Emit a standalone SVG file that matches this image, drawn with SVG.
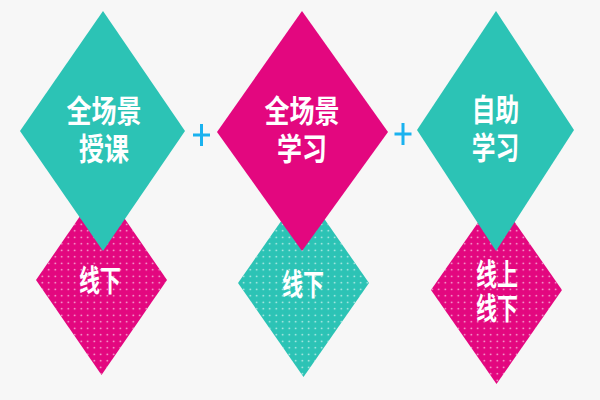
<svg xmlns="http://www.w3.org/2000/svg" width="600" height="400" viewBox="0 0 600 400">
  <defs>
    <pattern id="dots" width="6.5" height="6.5" patternUnits="userSpaceOnUse">
      <circle cx="3.25" cy="3.25" r="0.8" fill="#ffffff" fill-opacity="0.85"/>
    </pattern>
    <style>
      .teal { fill: #2cc3b5; }
      .mag { fill: #e3077f; }
      .dots { fill: url(#dots); }
      .big { font-family: "Noto Sans CJK SC", "Noto Sans", sans-serif; font-size: 25px; font-weight: bold; fill: #ffffff; text-anchor: middle; }
      .small { font-family: "Noto Sans CJK SC", "Noto Sans", sans-serif; font-size: 21px; font-weight: bold; fill: #ffffff; text-anchor: middle; }
      .plus { stroke: #1ab2ef; stroke-width: 3; fill: none; }
    </style>
  </defs>
  <rect x="0" y="0" width="600" height="400" fill="#f7f7f7"/>

  <g id="lower-1">
    <polygon class="mag" points="101.5,185 167,280 101.5,375 36,280"/>
    <polygon class="dots" points="101.5,185 167,280 101.5,375 36,280"/>
    <text class="small" transform="translate(100 291) scale(1 1.4)">线下</text>
  </g>
  <g id="lower-2">
    <polygon class="teal" points="303.5,189 369,283 303.5,377 238,283"/>
    <polygon class="dots" points="303.5,189 369,283 303.5,377 238,283"/>
    <text class="small" transform="translate(303 295) scale(1 1.4)">线下</text>
  </g>
  <g id="lower-3">
    <polygon class="mag" points="496.5,196 562,290 496.5,384 431,290"/>
    <polygon class="dots" points="496.5,196 562,290 496.5,384 431,290"/>
    <text class="small" transform="translate(497 285) scale(1 1.4)">线上</text>
    <text class="small" transform="translate(497 319) scale(1 1.4)">线下</text>
  </g>

  <g id="top-1">
    <polygon class="teal" points="103,11 185,131 103,251 20,131"/>
    <text class="big" transform="translate(104 122) scale(1 1.25)">全场景</text>
    <text class="big" transform="translate(104 160) scale(1 1.25)">授课</text>
  </g>
  <g id="top-2">
    <polygon class="mag" points="302,11 388,132 302,251 217,132"/>
    <text class="big" transform="translate(302 122) scale(1 1.25)">全场景</text>
    <text class="big" transform="translate(302 160) scale(1 1.25)">学习</text>
  </g>
  <g id="top-3">
    <polygon class="teal" points="496,11 574,130 496,251 417,130"/>
    <text class="big" transform="translate(495.5 121) scale(0.95 1.25)">自助</text>
    <text class="big" transform="translate(495.5 159) scale(0.95 1.25)">学习</text>
  </g>

  <g id="connectors">
    <path class="plus" d="M193 135 H210 M201.5 124 V146"/>
    <path class="plus" d="M394.5 134 H411.5 M403 123 V145"/>
  </g>
</svg>
